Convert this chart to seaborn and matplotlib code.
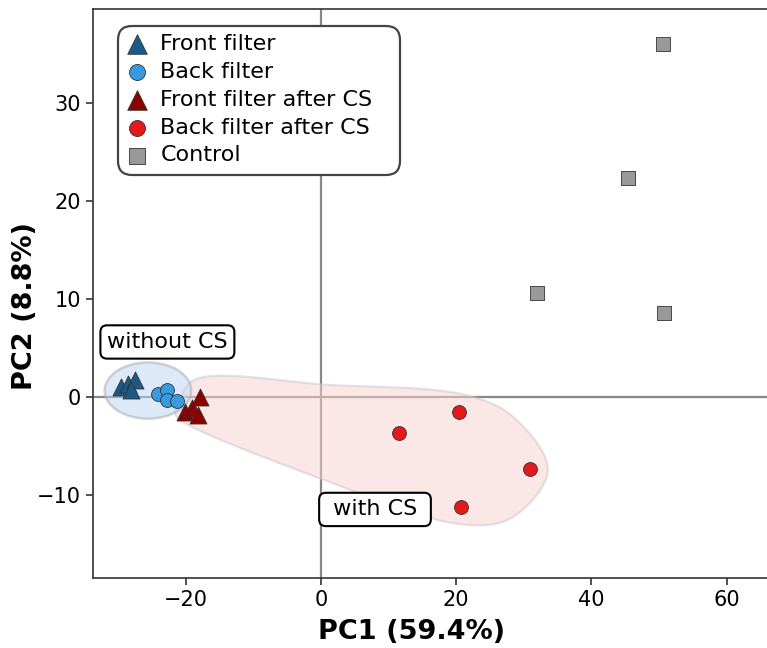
import numpy as np
import pandas as pd
import matplotlib
matplotlib.use("Agg")
import matplotlib.pyplot as plt
from matplotlib.patches import Ellipse, Polygon, FancyBboxPatch
from matplotlib.transforms import IdentityTransform
import seaborn as sns

# ---- data ----
front_x = [-29.6, -28.5, -27.5, -28.1]
front_y = [1.05, 1.33, 1.73, 0.70]
back_x = [-24.1, -22.7, -22.8, -21.3]
back_y = [0.30, 0.70, -0.30, -0.40]
front_cs_x = [-17.9, -20.1, -19.1, -18.2]
front_cs_y = [-0.03, -1.50, -1.15, -1.84]
back_cs_x = [20.4, 11.5, 30.9, 20.7]
back_cs_y = [-1.53, -3.67, -7.35, -11.2]
control_x = [50.6, 45.4, 32.0, 50.7]
control_y = [36.0, 22.3, 10.6, 8.57]

groups = ["Front filter", "Back filter", "Front filter after CS",
          "Back filter after CS", "Control"]
xs = [front_x, back_x, front_cs_x, back_cs_x, control_x]
ys = [front_y, back_y, front_cs_y, back_cs_y, control_y]
colors = ["#1B5A87", "#3A9AE0", "#8B0000", "#E31A1C", "#999999"]
markers = ["^", "o", "^", "o", "s"]
sizes = [150, 100, 150, 100, 90]

xlabel = "PC1 (59.4%)"
ylabel = "PC2 (8.8%)"

df = pd.DataFrame({
    "PC1": np.concatenate(xs),
    "PC2": np.concatenate(ys),
    "group": np.repeat(groups, [len(v) for v in xs]),
})

plt.rcParams["font.family"] = ["DejaVu Sans"]
fig = plt.figure(figsize=(7.67, 6.48), dpi=100)
ax = fig.add_axes([93 / 767, 70 / 648, 681 / 767, 569 / 648])

# zero lines
ax.axhline(0, color="#888888", lw=1.6, zorder=1)
ax.axvline(0, color="#888888", lw=1.6, zorder=1)

SX, SY = 6.76, 9.8  # approx. pixels per data unit, for a round outline


def convex_hull(P):
    pts = sorted(map(tuple, P))

    def cross(o, a, b):
        return (a[0] - o[0]) * (b[1] - o[1]) - (a[1] - o[1]) * (b[0] - o[0])

    lower, upper = [], []
    for p in pts:
        while len(lower) >= 2 and cross(lower[-2], lower[-1], p) <= 0:
            lower.pop()
        lower.append(p)
    for p in reversed(pts):
        while len(upper) >= 2 and cross(upper[-2], upper[-1], p) <= 0:
            upper.pop()
        upper.append(p)
    return np.array(lower[:-1] + upper[:-1])


def unit(v):
    return v / np.linalg.norm(v)


def smooth_blob(px, py, margin=18, tip=10, bulge=1e5, short=40, n=24):
    P = np.column_stack([np.asarray(px) * SX, np.asarray(py) * SY])
    H = convex_hull(P)  # counter-clockwise
    m = len(H)
    O = []
    for i in range(m):
        e1 = H[i] - H[i - 1]
        e2 = H[(i + 1) % m] - H[i]
        L1, L2 = np.linalg.norm(e1), np.linalg.norm(e2)
        e1, e2 = e1 / L1, e2 / L2
        n1 = np.array([e1[1], -e1[0]])
        n2 = np.array([e2[1], -e2[0]])
        bis = unit(n1 + n2)
        if np.dot(n1, n2) < 0 and min(L1, L2) < short:
            O += [H[i] + tip * n1, H[i] + tip * bis, H[i] + tip * n2]
        else:
            O.append(H[i] + margin * bis)
        if L2 > short:
            O.append((H[i] + H[(i + 1) % m]) / 2
                     + (margin + bulge / L2 ** 2) * n2)
    O = np.array(O)
    m = len(O)
    out = []
    for i in range(m):
        P0, P1, P2, P3 = O[i - 1], O[i], O[(i + 1) % m], O[(i + 2) % m]
        t0 = 0.0
        t1 = t0 + np.linalg.norm(P1 - P0) ** 0.5
        t2 = t1 + np.linalg.norm(P2 - P1) ** 0.5
        t3 = t2 + np.linalg.norm(P3 - P2) ** 0.5
        t = np.linspace(t1, t2, n, endpoint=False)[:, None]
        A1 = (t1 - t) / (t1 - t0) * P0 + (t - t0) / (t1 - t0) * P1
        A2 = (t2 - t) / (t2 - t1) * P1 + (t - t1) / (t2 - t1) * P2
        A3 = (t3 - t) / (t3 - t2) * P2 + (t - t2) / (t3 - t2) * P3
        B1 = (t2 - t) / (t2 - t0) * A1 + (t - t0) / (t2 - t0) * A2
        B2 = (t3 - t) / (t3 - t1) * A2 + (t - t1) / (t3 - t1) * A3
        C = (t2 - t) / (t2 - t1) * B1 + (t - t1) / (t2 - t1) * B2
        out.append(C)
    S = np.vstack(out)
    return np.column_stack([S[:, 0] / SX, S[:, 1] / SY])


# "with CS" region
cs_x = front_cs_x + back_cs_x
cs_y = front_cs_y + back_cs_y
blob = smooth_blob(cs_x, cs_y)
ax.add_patch(Polygon(blob, closed=True, facecolor="#fbd0d0", alpha=0.5,
                     edgecolor="#c8c8c8", lw=1.6, zorder=2))

# "without CS" region
wo_x = front_x + back_x
wo_y = front_y + back_y
ax.add_patch(Ellipse((np.mean(wo_x), np.mean(wo_y)), 12.8, 5.75,
                     facecolor="#b9d5f5", alpha=0.5, edgecolor="#aaaaaa",
                     lw=1.8, zorder=2))

for g, c, m, s in zip(groups, colors, markers, sizes):
    sub = df[df["group"] == g]
    sns.scatterplot(data=sub, x="PC1", y="PC2", ax=ax, color=c, marker=m,
                    s=s, edgecolor="#333333", linewidth=0.6, label=g,
                    zorder=3)

ax.set_xlim(-33.7, 67)
ax.set_ylim(-18.5, 39.6)
ax.set_xticks([-20, 0, 20, 40, 60])
ax.set_yticks([-10, 0, 10, 20, 30])
ax.tick_params(labelsize=15, length=5, width=1.2, color="#333333")
for sp in ax.spines.values():
    sp.set_color("#333333")
    sp.set_linewidth(1.2)

ax.set_xlabel(xlabel, fontsize=19.5, fontweight="bold")
ax.set_ylabel(ylabel, fontsize=19.5, fontweight="bold")
ax.xaxis.set_label_coords(0.468, -0.072)
ax.yaxis.set_label_coords(-0.081, 0.478)

bbox = dict(boxstyle="round,pad=0.3", fc="white", ec="black", lw=1.5)
ax.text(-22.7, 5.6, "without CS", fontsize=16, ha="center", va="center",
        bbox=bbox, zorder=4)
ax.text(8.0, -11.5, " with CS ", fontsize=16, ha="center", va="center",
        bbox=bbox, zorder=4)

# legend frame (drawn separately to match the reference's padding)
frame = FancyBboxPatch((118, 648 - 175), 282, 149,
                       boxstyle="round,pad=0,rounding_size=14",
                       transform=IdentityTransform(), facecolor="white",
                       edgecolor="#444444", lw=1.6, zorder=5)
ax.add_artist(frame)

leg = ax.legend(loc="upper left", bbox_to_anchor=(0.0485, 0.9555), fontsize=16,
                frameon=False, markerscale=1.15, handletextpad=0.54,
                labelspacing=0.35, borderpad=0.0, handlelength=1.0,
                borderaxespad=0.0)
leg.set_zorder(6)

fig.savefig("out.png", dpi=100)
